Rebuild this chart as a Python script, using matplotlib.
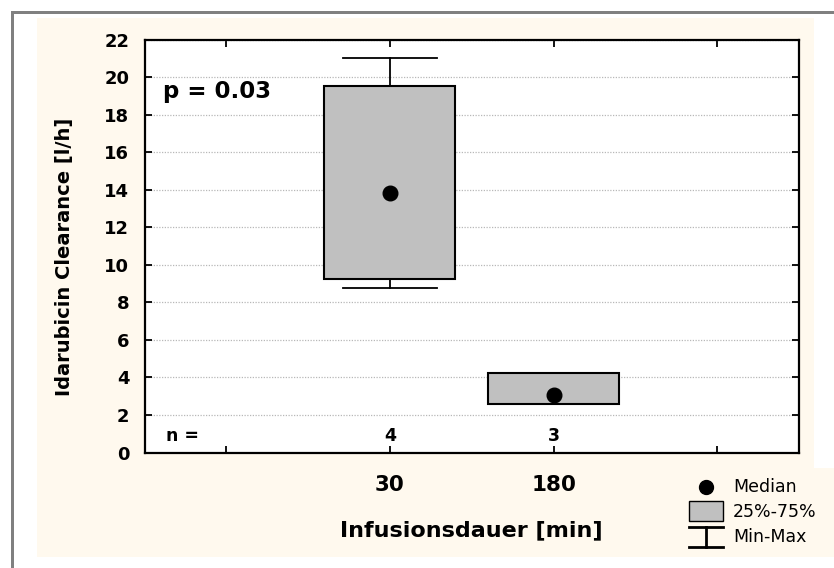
import matplotlib
matplotlib.use("Agg")
import matplotlib.pyplot as plt
from matplotlib.patches import Rectangle
from matplotlib.transforms import blended_transform_factory

plt.rcParams["font.family"] = ["DejaVu Sans"]

groups = ["30", "180"]
counts = [4, 3]
medians = [13.85, 3.07]
q1 = [9.25, 2.57]
q3 = [19.55, 4.22]
mins = [8.78, 2.57]
maxs = [21.01, 4.22]
p_text = "p = 0.03"

W, H = 834, 568
fig = plt.figure(figsize=(W / 100, H / 100), dpi=100)
fig.patch.set_facecolor("white")


def frac(x, y, w, h):
    # pixel box (top-left origin) -> figure fractions
    return (x / W, 1 - (y + h) / H, w / W, h / H)


cream = "#fff9ee"
for box in [(37, 18, 777, 539), (680, 468, 154, 89)]:
    x, y, w, h = frac(*box)
    fig.patches.append(Rectangle((x, y), w, h, transform=fig.transFigure,
                                 facecolor=cream, edgecolor="none", zorder=-2))
# grey outer frame
for box in [(11, 11, 823, 3), (11, 11, 3, 557)]:
    x, y, w, h = frac(*box)
    fig.patches.append(Rectangle((x, y), w, h, transform=fig.transFigure,
                                 facecolor="#808080", edgecolor="none", zorder=-1))

ax = fig.add_axes(frac(144.5, 39.7, 654.5, 412.8))
ax.set_facecolor("white")

pos = [1, 2]
stats = []
for g, m, a, b, lo, hi in zip(groups, medians, q1, q3, mins, maxs):
    stats.append(dict(label=g, med=m, q1=a, q3=b, whislo=lo, whishi=hi, fliers=[]))

ax.bxp(stats, positions=pos, widths=0.8, capwidths=0.57, patch_artist=True,
       boxprops=dict(facecolor="#c0c0c0", edgecolor="black", linewidth=1.5),
       whiskerprops=dict(color="black", linewidth=1.3),
       capprops=dict(color="black", linewidth=1.3),
       medianprops=dict(visible=False), showfliers=False, zorder=3)
ax.plot(pos, medians, "o", color="black", markersize=10.5, zorder=4)

ax.set_xlim(-0.5, 3.5)
ax.set_ylim(0, 22)
ax.set_yticks(range(0, 23, 2))
ax.set_xticks([0, 1, 2, 3])
ax.set_xticklabels(["", groups[0], groups[1], ""])
ax.yaxis.grid(True, linestyle=(0, (1, 1.2)), color="#b8b8b8", linewidth=0.9)
ax.set_axisbelow(True)

for s in ax.spines.values():
    s.set_linewidth(1.6)
ax.tick_params(direction="in", length=5, width=1.3, top=True, right=True)
ax.tick_params(axis="x", pad=16, labelsize=15.5)
ax.tick_params(axis="y", pad=11, labelsize=13)
for lab in ax.get_xticklabels() + ax.get_yticklabels():
    lab.set_fontweight("bold")

ax.set_xlabel("Infusionsdauer [min]", fontsize=16, fontweight="bold", va="center")
ax.xaxis.set_label_coords(0.5, -0.1887)
ax.set_ylabel("Idarubicin Clearance [l/h]", fontsize=14, fontweight="bold", va="center")
ax.yaxis.set_label_coords(-0.1215, 0.4736)

# p-value: x in axes fraction, y in data units
ax.text(0.028, 19.22, p_text, transform=blended_transform_factory(ax.transAxes, ax.transData),
        fontsize=16.5, fontweight="bold", ha="left", va="center")
ax.text(-0.268, 0.88, "n =", fontsize=12.5, fontweight="bold", ha="center", va="center")
for x, n in zip(pos, counts):
    ax.text(x, 0.88, str(n), fontsize=12.5, fontweight="bold", ha="center", va="center")

# legend panel below the plot, right side
lg = fig.add_axes(frac(680, 468, 154, 89))
lg.set_xlim(680, 834)
lg.set_ylim(557, 468)
lg.axis("off")
lg.plot([706], [487], "o", color="black", markersize=10)
lg.add_patch(Rectangle((689, 501), 34, 20, facecolor="#c0c0c0",
                       edgecolor="black", linewidth=1.0))
lg.plot([689, 723], [527, 527], color="black", linewidth=2)
lg.plot([689, 723], [547, 547], color="black", linewidth=2)
lg.plot([706, 706], [527, 547], color="black", linewidth=2)
for y, t in [(487, "Median"), (511.5, "25%-75%"), (537, "Min-Max")]:
    lg.text(733, y, t, fontsize=12.5, ha="left", va="center")

fig.savefig("out.png", dpi=100, facecolor=fig.get_facecolor())
